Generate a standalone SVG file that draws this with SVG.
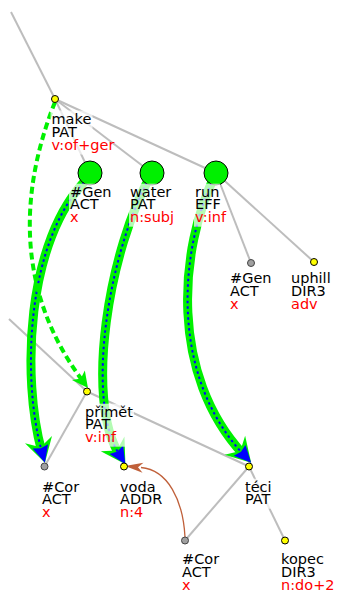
<svg xmlns="http://www.w3.org/2000/svg" width="337" height="593" viewBox="0 0 337 593">
<style>
.e{stroke:#bdbdbd;stroke-width:2;fill:none}
.g{stroke:#00f000;stroke-width:9;fill:none}
.b{stroke:#0000ff;stroke-width:2;stroke-dasharray:2.5 3;fill:none}
.d{stroke:#00f000;stroke-width:4;stroke-dasharray:7 4;fill:none}
.r{stroke:#c0603a;stroke-width:1.3;fill:none}
.bg{fill:#fff;fill-opacity:0.7}
text{font-family:"DejaVu Sans",sans-serif;font-size:14.5px;fill:#000}
text.f{fill:#ff0000}
.y{fill:#ffff00;stroke:#000;stroke-width:1}
.gr{fill:#a0a0a0;stroke:#444;stroke-width:1}
.big{fill:#00f000;stroke:#000;stroke-width:1}
</style>
<defs>
<marker id="mg" markerUnits="userSpaceOnUse" orient="auto" viewBox="0 -15 30 30" markerWidth="30" markerHeight="30" refX="12" refY="0" overflow="visible"><path d="M0,-14 L24,0 L0,14 L8,0Z" fill="#00f000"/></marker>
<marker id="mb" markerUnits="userSpaceOnUse" orient="auto" viewBox="0 -15 30 30" markerWidth="30" markerHeight="30" refX="7" refY="0" overflow="visible"><path d="M2,-8 L19,0 L2,8 L4,0Z" fill="#0000ff"/></marker>
<marker id="md" markerUnits="userSpaceOnUse" orient="auto" viewBox="0 -10 20 20" markerWidth="20" markerHeight="20" refX="6" refY="0" overflow="visible"><path d="M0,-8 L16,0 L0,8 L4,0Z" fill="#00f000"/></marker>
<marker id="mr" markerUnits="userSpaceOnUse" orient="auto" viewBox="0 -6 20 12" markerWidth="20" markerHeight="12" refX="2" refY="0" overflow="visible"><path d="M0,-5 L18,0 L0,5 L5,0Z" fill="#c0603a"/></marker>
</defs>
<g id="connectors">
<path class="e" d="M11,12 L55,99"/>
<path class="e" d="M55,99 L90,173"/>
<path class="e" d="M55,99 L152,173"/>
<path class="e" d="M55,99 L216,173"/>
<path class="e" d="M216,173 L251,263"/>
<path class="e" d="M216,173 L314,262"/>
<path class="e" d="M9,319 L87,391.5"/>
<path class="e" d="M87,391.5 L44.5,466.5"/>
<path class="e" d="M87,391.5 L249,466.5"/>
<path class="e" d="M249,466.5 L185,540.5"/>
<path class="e" d="M249,466.5 L285,540.5"/>
<path class="g" marker-end="url(#mg)" d="M88,178 C25,240 22,380 41.7,451.2"/>
<path class="b" marker-end="url(#mb)" d="M88,178 C25,240 22,380 41.7,451.2"/>
<path class="g" marker-end="url(#mg)" d="M152,173 C108,250 85,400 119,454"/>
<path class="b" marker-end="url(#mb)" d="M152,173 C108,250 85,400 119,454"/>
<path class="g" marker-end="url(#mg)" d="M216,173 C178,250 170,375 243,454"/>
<path class="b" marker-end="url(#mb)" d="M216,173 C178,250 170,375 243,454"/>
<path class="d" marker-end="url(#md)" d="M55,102 C20,190 15,290 82,380"/>
<path class="r" marker-end="url(#mr)" d="M185,537 C183,500 168,470 141,467.5"/>
</g>
<g id="n-make"><rect class="bg" x="50.5" y="110.5" width="42" height="44"/><text x="51.5" y="123.5">make</text><text x="51.5" y="136.5">PAT</text><text class="f" x="51.5" y="149.5">v:of+ger</text><circle class="y" cx="55" cy="99" r="3.5"/></g>
<g id="n-gen1"><circle class="big" cx="90" cy="173" r="12"/><rect class="bg" x="69" y="183.7" width="43" height="43"/><text x="70" y="196.7">#Gen</text><text x="70" y="209.3">ACT</text><text class="f" x="70" y="221.7">x</text></g>
<g id="n-water"><circle class="big" cx="152" cy="173" r="12"/><rect class="bg" x="129" y="183.7" width="43" height="43"/><text x="130" y="196.7">water</text><text x="130" y="209.3">PAT</text><text class="f" x="130" y="221.7">n:subj</text></g>
<g id="n-run"><circle class="big" cx="216" cy="173" r="12"/><rect class="bg" x="194" y="183.7" width="26" height="43"/><text x="195" y="196.7">run</text><text x="195" y="209.3">EFF</text><text class="f" x="195" y="221.7">v:inf</text></g>
<g id="n-gen2"><rect class="bg" x="229" y="270.3" width="43" height="44"/><text x="230" y="283.3">#Gen</text><text x="230" y="296">ACT</text><text class="f" x="230" y="309.3">x</text><circle class="gr" cx="251" cy="263" r="3.5"/></g>
<g id="n-uphill"><rect class="bg" x="290" y="270.3" width="41" height="44"/><text x="291" y="283.3">uphill</text><text x="291" y="296">DIR3</text><text class="f" x="291" y="309.3">adv</text><circle class="y" cx="314" cy="262" r="3.5"/></g>
<g id="n-primet"><rect class="bg" x="84" y="403.7" width="50" height="43"/><text x="85" y="416.7">přimět</text><text x="85" y="429.3">PAT</text><text class="f" x="85" y="442">v:inf</text><circle class="y" cx="87" cy="391.5" r="3.5"/></g>
<g id="n-cor1"><rect class="bg" x="41" y="478.7" width="39" height="43"/><text x="42" y="491.7">#Cor</text><text x="42" y="504.3">ACT</text><text class="f" x="42" y="516.7">x</text><circle class="gr" cx="44.5" cy="466.5" r="3.5"/></g>
<g id="n-voda"><rect class="bg" x="119" y="478.7" width="37" height="43"/><text x="120" y="491.7">voda</text><text x="120" y="504.3">ADDR</text><text class="f" x="120" y="516.7">n:4</text><circle class="y" cx="124" cy="466.5" r="3.5"/></g>
<g id="n-teci"><rect class="bg" x="244" y="478.7" width="28" height="30"/><text x="245" y="491.7">téci</text><text x="245" y="504.3">PAT</text><circle class="y" cx="249" cy="466.5" r="3.5"/></g>
<g id="n-cor2"><rect class="bg" x="181" y="551.3" width="39" height="42"/><text x="182" y="564.3">#Cor</text><text x="182" y="576.7">ACT</text><text class="f" x="182" y="589.7">x</text><circle class="gr" cx="185" cy="540.5" r="3.5"/></g>
<g id="n-kopec"><rect class="bg" x="280" y="551.3" width="45" height="42"/><text x="281" y="564.3">kopec</text><text x="281" y="576.7">DIR3</text><text class="f" x="281" y="589.7">n:do+2</text><circle class="y" cx="285" cy="540.5" r="3.5"/></g>
</svg>
